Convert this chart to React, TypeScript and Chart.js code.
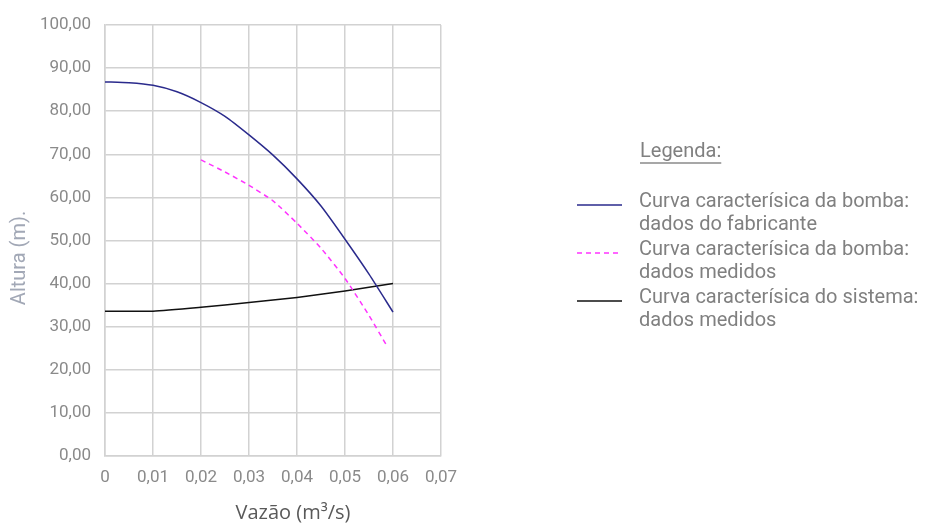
import React, { useEffect, useRef } from "react";
import { Chart, registerables } from "chart.js";

Chart.register(...registerables);

// Curva característica da bomba: dados do fabricante
const FAB_X = [0, 0.005, 0.01, 0.015, 0.02, 0.025, 0.03, 0.035, 0.04, 0.045, 0.05, 0.055, 0.06];
const FAB_Y = [86.8, 86.6, 86.0, 84.5, 82.0, 78.8, 74.5, 69.8, 64.3, 58.0, 50.3, 42.2, 33.4];

// Curva característica da bomba: dados medidos
const MED_X = [0.02, 0.025, 0.03, 0.035, 0.04, 0.045, 0.05, 0.055, 0.0587];
const MED_Y = [68.7, 65.9, 62.8, 59.2, 54.0, 48.2, 41.2, 32.6, 25.6];

// Curva característica do sistema: dados medidos
const SIS_X = [0, 0.01, 0.02, 0.03, 0.04, 0.05, 0.06];
const SIS_Y = [33.6, 33.6, 34.5, 35.6, 36.8, 38.3, 40.0];

const X_TICK_LABELS = ["0", "0,01", "0,02", "0,03", "0,04", "0,05", "0,06", "0,07"];
const Y_TICK_LABELS = ["0,00", "10,00", "20,00", "30,00", "40,00", "50,00", "60,00", "70,00", "80,00", "90,00", "100,00"];

const X_TITLE = "Vazão (m³/s)";
const Y_TITLE = "Altura (m).";
const LEGEND_TITLE = "Legenda:";
const SERIES_LABELS = [
  ["Curva caracterísica da bomba:", "dados do fabricante"],
  ["Curva caracterísica da bomba:", "dados medidos"],
  ["Curva caracterísica do sistema:", "dados medidos"],
];
const SERIES_COLORS = ["#2a2a8c", "#ff33ff", "#111111"];
const SERIES_DASH = [[], [5, 4], []];

const toPoints = (xs: number[], ys: number[]) => xs.map((x, i) => ({ x, y: ys[i] }));

const GRID = "#d2d2d2";
const TICK_COLOR = "#8a8a8a";

const annotations = {
  id: "annotations",
  afterDraw(chart: any) {
    const ctx = chart.ctx as CanvasRenderingContext2D;
    ctx.save();
    // Axis titles
    ctx.fillStyle = "#595959";
    ctx.font = "20px 'Open Sans'";
    ctx.textAlign = "center";
    ctx.textBaseline = "middle";
    ctx.fillText(X_TITLE, 293, 513);

    ctx.save();
    ctx.translate(20, 258);
    ctx.rotate(-Math.PI / 2);
    ctx.fillStyle = "#a2a8b6";
    ctx.font = "20px Roboto";
    ctx.fillText(Y_TITLE, 0, 0);
    ctx.restore();

    // Legend
    ctx.textAlign = "left";
    ctx.fillStyle = "#808080";
    ctx.font = "20px Roboto";
    ctx.fillText(LEGEND_TITLE, 640, 152);
    const w = ctx.measureText(LEGEND_TITLE).width;
    ctx.strokeStyle = "#8a8a8a";
    ctx.lineWidth = 1.5;
    ctx.beginPath();
    ctx.moveTo(640, 163);
    ctx.lineTo(640 + w, 163);
    ctx.stroke();

    SERIES_LABELS.forEach((lines, i) => {
      const y0 = 202 + i * 48;
      ctx.strokeStyle = SERIES_COLORS[i];
      ctx.lineWidth = 1.5;
      ctx.setLineDash(SERIES_DASH[i]);
      ctx.beginPath();
      ctx.moveTo(577, y0 + 3);
      ctx.lineTo(622, y0 + 3);
      ctx.stroke();
      ctx.setLineDash([]);
      ctx.fillStyle = "#808080";
      lines.forEach((t, j) => ctx.fillText(t, 639, y0 + j * 23));
    });
    ctx.restore();
  },
};

export default function App() {
  const ref = useRef<HTMLCanvasElement>(null);
  useEffect(() => {
    document.body.style.margin = "0";
    const chart = new Chart(ref.current!, {
      type: "scatter",
      data: {
        datasets: [
          { data: toPoints(FAB_X, FAB_Y) },
          { data: toPoints(MED_X, MED_Y) },
          { data: toPoints(SIS_X, SIS_Y) },
        ].map((d, i) => ({
          ...d,
          label: SERIES_LABELS[i].join(" "),
          showLine: true,
          borderColor: SERIES_COLORS[i],
          backgroundColor: SERIES_COLORS[i],
          borderWidth: 1.5,
          borderDash: SERIES_DASH[i],
          pointRadius: 0,
          tension: 0.2,
          fill: false,
        })),
      },
      options: {
        animation: false,
        responsive: false,
        layout: { padding: { top: 25, right: 490, left: 0, bottom: 0 } },
        plugins: { legend: { display: false }, tooltip: { enabled: false } },
        scales: {
          x: {
            type: "linear",
            min: 0,
            max: 0.07,
            afterFit: (s: any) => { s.height = 69; },
            afterBuildTicks: (s: any) => {
              s.ticks = X_TICK_LABELS.map((_, i) => ({ value: i * 0.01 }));
            },
            ticks: {
              color: TICK_COLOR,
              font: { family: "Roboto", size: 17 },
              padding: 12,
              maxRotation: 0,
              autoSkip: false,
              callback: (_v: any, i: number) => X_TICK_LABELS[i],
            },
            grid: { color: GRID, lineWidth: 1.5, drawTicks: false },
            border: { display: true, color: GRID, width: 1.5 },
          },
          y: {
            type: "linear",
            min: 0,
            max: 100,
            afterFit: (s: any) => { s.width = 105; },
            afterBuildTicks: (s: any) => {
              s.ticks = Y_TICK_LABELS.map((_, i) => ({ value: i * 10 }));
            },
            ticks: {
              color: TICK_COLOR,
              font: { family: "Roboto", size: 17 },
              padding: 14,
              autoSkip: false,
              callback: (_v: any, i: number) => Y_TICK_LABELS[i],
            },
            grid: { color: GRID, lineWidth: 1.5, drawTicks: false },
            border: { display: true, color: GRID, width: 1.5 },
          },
        },
      },
      plugins: [annotations],
    });
    return () => chart.destroy();
  }, []);
  return (
    <div style={{ position: "fixed", left: 0, top: 0, width: 931, height: 525, background: "#fff" }}>
      <canvas ref={ref} width={931} height={525} />
    </div>
  );
}
